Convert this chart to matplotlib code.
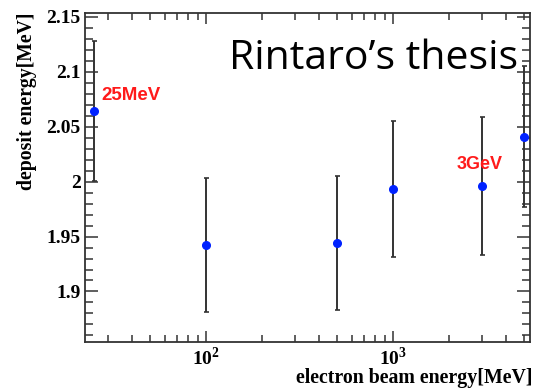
import numpy as np
import matplotlib
matplotlib.use("Agg")
import matplotlib.pyplot as plt
from matplotlib.ticker import LogLocator, MultipleLocator, NullFormatter

plt.rcParams['mathtext.fontset'] = 'custom'
plt.rcParams['mathtext.rm'] = 'Liberation Serif:bold'
plt.rcParams['mathtext.bf'] = 'Liberation Serif:bold'

# beam energy [MeV] vs deposited energy [MeV] with errors
beam_energy = [25, 100, 500, 1000, 3000, 5000]
deposit = [2.0645, 1.942, 1.9445, 1.993, 1.996, 2.041]
deposit_err = [0.064, 0.061, 0.061, 0.062, 0.063, 0.064]

ytick_vals = [1.9, 1.95, 2.0, 2.05, 2.1, 2.15]
ytick_labels = ["1.9", "1.95", "2", "2.05", "2.1", "2.15"]
xtick_vals = [100, 1000]
xtick_labels = ["$10^{2}$", "$10^{3}$"]

fig = plt.figure(figsize=(5.39, 3.90), dpi=100)
ax = fig.add_axes([85/539, 1 - 342/390, 445/539, 329.5/390])

ax.errorbar(beam_energy, deposit, yerr=deposit_err, fmt='o', color='#0022ff',
            markersize=5.5, ecolor='#333333', elinewidth=1.4, capsize=1.8,
            capthick=1.2, zorder=3)

ax.set_xscale('log')
ax.set_xlim(22.5, 5400)
ax.set_ylim(1.854, 2.154)

ax.set_xticks(xtick_vals)
ax.set_xticklabels(xtick_labels, fontsize=14)
ax.xaxis.set_minor_locator(LogLocator(base=10, subs=np.arange(2, 10)))
ax.xaxis.set_minor_formatter(NullFormatter())
ax.set_yticks(ytick_vals)
ax.set_yticklabels(ytick_labels, fontsize=14, family='Liberation Serif',
                   fontweight='bold')
ax.yaxis.set_minor_locator(MultipleLocator(0.01))

ax.tick_params(axis='both', which='both', direction='in', top=True, right=True,
               color='#333333', width=1.1)
ax.tick_params(axis='y', which='major', length=9.5, pad=3)
ax.tick_params(axis='y', which='minor', length=5.5)
ax.tick_params(axis='x', which='major', length=8, pad=3.5)
ax.tick_params(axis='x', which='minor', length=5)
for sp in ax.spines.values():
    sp.set_color('#333333')
    sp.set_linewidth(1.3)

# axis titles in ROOT style
fig.text(532/539, 1 - 378/390, "electron beam energy[MeV]", ha='right',
         va='center', fontsize=14.3, family='Liberation Serif', fontweight='bold')
fig.text(27/539, 1 - 12/390, "deposit energy[MeV]", ha='center', va='top',
         rotation=90, fontsize=14.2, family='Liberation Serif', fontweight='bold')

# point annotations
ax.text(0.036, 0.747, "25MeV", transform=ax.transAxes, color='#ff1a1a',
        fontsize=13.5, fontweight='bold', family='Liberation Sans', va='center')
ax.text(0.835, 0.540, "3GeV", transform=ax.transAxes, color='#ff1a1a',
        fontsize=13, fontweight='bold', family='Liberation Sans', va='center')

fig.text(229/539, 1 - 69/390, "Rintaro\u2019s thesis", ha='left',
         va='baseline', fontsize=29.5, family='Open Sans')

fig.savefig("out.png", dpi=100)
